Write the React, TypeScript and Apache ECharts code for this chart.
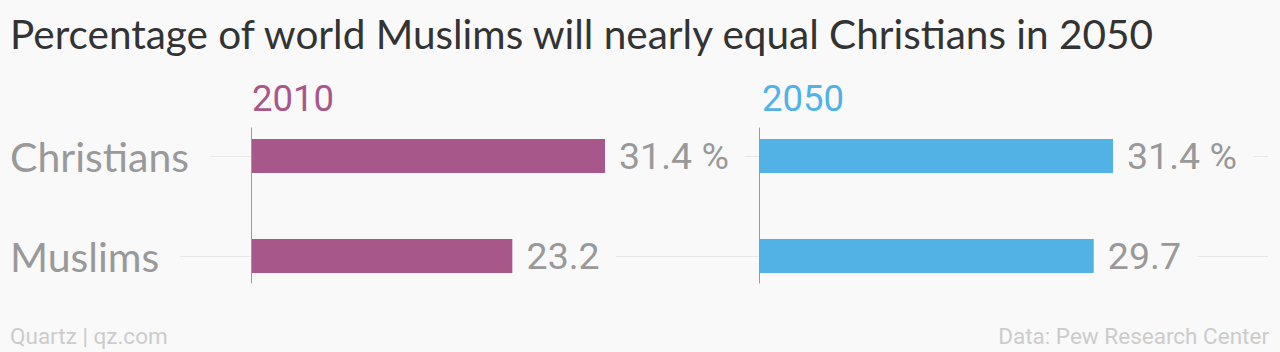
import React, { useEffect, useRef } from "react";
import * as echarts from "echarts";

const categories = ["Christians", "Muslims"];
const values2010 = [31.4, 23.2];
const values2050 = [31.4, 29.7];
const panelYears = ["2010", "2050"];
const titleText = "Percentage of world Muslims will nearly equal Christians in 2050";
const footerLeft = "Quartz | qz.com";
const footerRight = "Data: Pew Research Center";

const BG = "#f9f9f9";
const PURPLE = "#a8578a";
const BLUE = "#52b2e5";
const GRAY = "#999999";

export default function App() {
  const ref = useRef<HTMLDivElement>(null);
  useEffect(() => {
    if (!ref.current) return;
    const chart = echarts.init(ref.current, null, { renderer: "svg" });
    const panelLeft = [251, 759];
    const panelWidth = 451;
    const valueFont = "Roboto, sans-serif";
    const labelFormatter = (p: any) => (p.dataIndex === 0 ? `${p.value} %` : `${p.value}`);

    chart.setOption({
      animation: false,
      backgroundColor: BG,
      title: [
        {
          text: titleText,
          left: 10,
          top: 13,
          padding: 0,
          textStyle: { fontFamily: "Lato, sans-serif", fontSize: 40.5, fontWeight: "normal", color: "#333333" },
        },
        {
          text: panelYears[0],
          left: panelLeft[0] + 1,
          top: 80,
          padding: 0,
          textStyle: { fontFamily: valueFont, fontSize: 36.5, fontWeight: "normal", color: PURPLE },
        },
        {
          text: panelYears[1],
          left: panelLeft[1] + 3,
          top: 80,
          padding: 0,
          textStyle: { fontFamily: valueFont, fontSize: 36.5, fontWeight: "normal", color: BLUE },
        },
        {
          text: footerLeft,
          left: 10,
          top: 324,
          padding: 0,
          textStyle: { fontFamily: valueFont, fontSize: 22.5, fontWeight: "normal", color: "#cccccc" },
        },
        {
          text: footerRight,
          right: 11,
          top: 324,
          padding: 0,
          textStyle: { fontFamily: valueFont, fontSize: 22.5, fontWeight: "normal", color: "#cccccc" },
        },
      ],
      grid: [
        { left: 10, right: 12, top: 106, height: 200 },
        { left: panelLeft[0], top: 128, height: 155, width: panelWidth },
        { left: panelLeft[1], top: 128, height: 155, width: panelWidth },
        { left: panelLeft[0], top: 106, height: 200, width: panelWidth },
        { left: panelLeft[1], top: 106, height: 200, width: panelWidth },
      ],
      xAxis: [
        { gridIndex: 0, type: "value", min: 0, max: 1, show: false },
        { gridIndex: 1, type: "value", min: 0, max: 40, show: false },
        { gridIndex: 2, type: "value", min: 0, max: 40, show: false },
        { gridIndex: 3, type: "value", min: 0, max: 40, show: false },
        { gridIndex: 4, type: "value", min: 0, max: 40, show: false },
      ],
      yAxis: [
        { gridIndex: 0, type: "category", data: categories, inverse: true, show: false },
        {
          gridIndex: 1,
          type: "category",
          data: categories,
          inverse: true,
          z: 12,
          axisLine: { show: true, lineStyle: { color: "#9a9a9a", width: 1 } },
          axisTick: { show: false },
          axisLabel: { show: false },
          splitLine: { show: false },
        },
        {
          gridIndex: 2,
          type: "category",
          data: categories,
          inverse: true,
          z: 12,
          axisLine: { show: true, lineStyle: { color: "#9a9a9a", width: 1 } },
          axisTick: { show: false },
          axisLabel: { show: false },
          splitLine: { show: false },
        },
        {
          gridIndex: 3,
          type: "category",
          data: categories,
          inverse: true,
          z: 10,
          axisLine: { show: false },
          axisTick: { show: false },
          splitLine: { show: false },
          axisLabel: {
            show: true,
            align: "left",
            margin: panelLeft[0] - 10,
            fontFamily: "Lato, sans-serif",
            fontSize: 41,
            color: GRAY,
            backgroundColor: BG,
            padding: [4, 21, 4, 0],
          },
        },
        {
          gridIndex: 4,
          type: "category",
          data: categories,
          inverse: true,
          show: false,
        },
      ],
      series: [
        {
          type: "line",
          xAxisIndex: 0,
          yAxisIndex: 0,
          data: [[0, categories[0]]],
          symbol: "none",
          lineStyle: { opacity: 0 },
          silent: true,
          z: 1,
          markLine: {
            silent: true,
            symbol: "none",
            z: 1,
            label: { show: false },
            lineStyle: { color: "#e8e8e8", width: 1, type: "solid" },
            data: categories.map((c) => ({ yAxis: c })),
          },
        },
        {
          type: "bar",
          xAxisIndex: 3,
          yAxisIndex: 3,
          data: values2010,
          barWidth: 34,
          itemStyle: { color: PURPLE },
          z: 5,
          label: {
            show: true,
            position: "right",
            distance: 0,
            formatter: labelFormatter,
            fontFamily: valueFont,
            fontSize: 37.5,
            color: GRAY,
            backgroundColor: BG,
            padding: [4, 16, 4, 14],
          },
        },
        {
          type: "bar",
          xAxisIndex: 4,
          yAxisIndex: 4,
          data: values2050,
          barWidth: 34,
          itemStyle: { color: BLUE },
          z: 5,
          label: {
            show: true,
            position: "right",
            distance: 0,
            formatter: labelFormatter,
            fontFamily: valueFont,
            fontSize: 37.5,
            color: GRAY,
            backgroundColor: BG,
            padding: [4, 16, 4, 14],
          },
        },
      ],
    });
    return () => chart.dispose();
  }, []);
  return <div ref={ref} style={{ width: 1280, height: 352, position: "absolute", left: 0, top: 0 }} />;
}
